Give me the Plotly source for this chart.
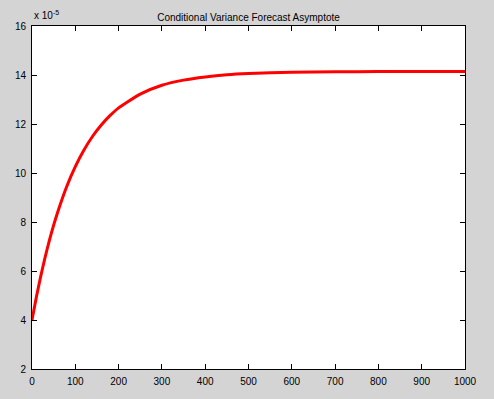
import plotly.graph_objects as go

# Horizon (periods ahead) and conditional variance forecast
horizon = [0, 10, 20, 30, 40, 50, 60, 80, 100, 120, 140, 160, 180, 200, 250,
           300, 350, 400, 450, 500, 600, 700, 800, 900, 1000]
variance = [4.00e-5, 4.93e-5, 5.77e-5, 6.54e-5, 7.24e-5, 7.87e-5, 8.44e-5, 9.44e-5,
            10.26e-5, 10.94e-5, 11.50e-5, 11.96e-5, 12.34e-5, 12.66e-5, 13.22e-5,
            13.58e-5, 13.79e-5, 13.92e-5, 14.01e-5, 14.06e-5, 14.11e-5, 14.13e-5,
            14.14e-5, 14.14e-5, 14.14e-5]
scale = 1e5
x_ticks = [0, 100, 200, 300, 400, 500, 600, 700, 800, 900, 1000]
y_ticks = [2, 4, 6, 8, 10, 12, 14, 16]

FONT = "Liberation Sans, Arial"

fig = go.Figure()
fig.add_trace(go.Scatter(
    x=horizon, y=[v * scale for v in variance], mode="lines",
    line=dict(color="#ff0000", width=3, shape="spline", smoothing=0.6),
    showlegend=False, hoverinfo="skip"))

axis_common = dict(showline=True, linecolor="black", linewidth=1, mirror="ticks",
                   ticks="inside", ticklen=5, tickcolor="black", tickwidth=1,
                   showgrid=False, zeroline=False,
                   tickfont=dict(family=FONT, size=10, color="black"))

fig.update_layout(
    width=494, height=399,
    margin=dict(l=32, r=29, t=26, b=30),
    paper_bgcolor="#d4d4d4", plot_bgcolor="white",
    xaxis=dict(range=[0, 1000], tickvals=x_ticks, ticklabelstandoff=3, **axis_common),
    yaxis=dict(range=[2, 16], tickvals=y_ticks, ticklabelstandoff=3, **axis_common),
    title=dict(text="Conditional Variance Forecast Asymptote", x=0.5, xref="paper",
               y=1, yref="paper", yanchor="bottom", pad=dict(b=5),
               font=dict(family=FONT, size=10, color="black")),
    annotations=[dict(text="x 10<sup>-5</sup>", xref="paper", yref="paper",
                      x=0, y=1, xanchor="left", yanchor="bottom", yshift=3, showarrow=False,
                      font=dict(family=FONT, size=10, color="black"))],
)

fig.write_html("out.html")
